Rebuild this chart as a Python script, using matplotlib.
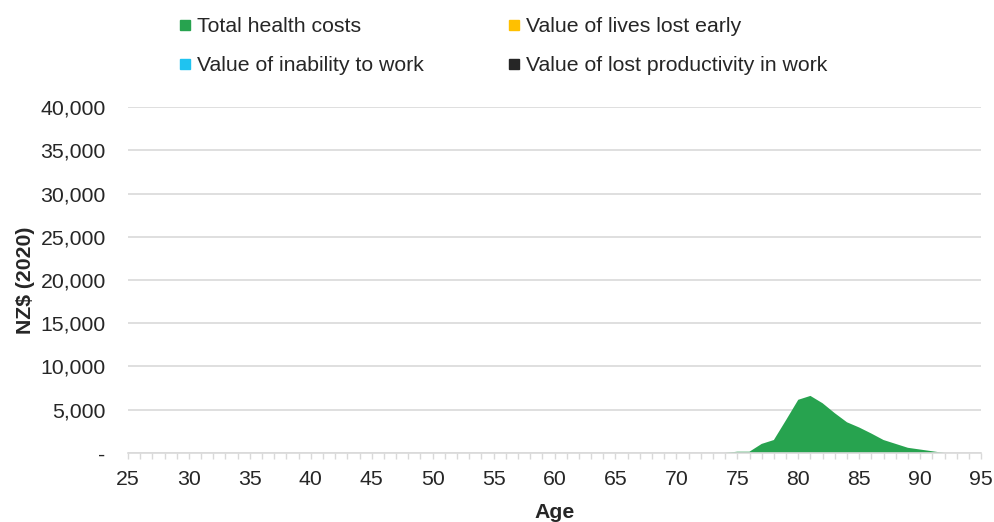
import matplotlib.pyplot as plt
from matplotlib.ticker import FuncFormatter, MultipleLocator
from matplotlib.lines import Line2D
import numpy as np

plt.rcParams['font.family'] = ['Liberation Sans', 'DejaVu Sans']

# ages 25..95
ages = np.arange(25, 96)

# health cost values (non-zero only between 75 and 91)
health_ages = [74, 75, 76, 77, 78, 79, 80, 81, 82, 83, 84, 85, 86, 87, 88, 89, 90, 91, 92]
health_vals = [0, 150, 150, 1050, 1500, 3800, 6150, 6600, 5750, 4600, 3550, 2950, 2250, 1500, 1050, 600, 400, 200, 0]

health = np.zeros(len(ages))
for a, v in zip(health_ages, health_vals):
    health[a - 25] = v
lives_lost = np.zeros(len(ages))
inability = np.zeros(len(ages))
productivity = np.zeros(len(ages))

labels = ['Total health costs', 'Value of lives lost early',
          'Value of inability to work', 'Value of lost productivity in work']
colors = ['#27A34F', '#FFC000', '#1FC3F0', '#262626']

fig = plt.figure(figsize=(9.95, 5.22), dpi=100)
ax = fig.add_axes([0.1286, 0.1322, 0.986 - 0.1286, 0.795 - 0.1322])

ax.stackplot(ages, health, lives_lost, inability, productivity,
             colors=colors, linewidth=0)

ax.set_xlim(25, 95)
ax.set_ylim(0, 40000)
ax.yaxis.set_major_locator(MultipleLocator(5000))
ax.yaxis.set_major_formatter(FuncFormatter(lambda v, p: '-' if v == 0 else f'{int(v):,}'))
ax.xaxis.set_major_locator(MultipleLocator(5))
ax.xaxis.set_minor_locator(MultipleLocator(1))

ax.grid(axis='y', color='#D9D9D9', linewidth=1.2)
ax.set_axisbelow(True)
for s in ['top', 'right', 'left']:
    ax.spines[s].set_visible(False)
ax.spines['bottom'].set_color('#D9D9D9')
ax.spines['bottom'].set_linewidth(1.2)

ax.tick_params(axis='y', length=0, labelsize=15.3, colors='#262626', pad=16)
ax.tick_params(axis='x', which='both', length=4, color='#D9D9D9', width=1,
               labelsize=15.3, labelcolor='#262626', pad=8)

ax.set_xlabel('Age', fontsize=15.3, fontweight='bold', color='#262626', labelpad=10)
ax.set_ylabel('NZ$ (2020)', fontsize=15.3, fontweight='bold', color='#262626', labelpad=4)

# legend fills column by column, so order entries to read row by row
order = [0, 2, 1, 3]
handles = [Line2D([], [], marker='s', linestyle='none', markersize=7, color=colors[i]) for i in order]
fig.legend(handles, [labels[i] for i in order], ncol=2, loc='upper left',
           bbox_to_anchor=(0.16, 1.004),
           frameon=False, fontsize=15.3, handlelength=0.6, handletextpad=0.3,
           labelspacing=0.95, columnspacing=3.9, labelcolor='#262626')

fig.savefig('out.png', dpi=100)
